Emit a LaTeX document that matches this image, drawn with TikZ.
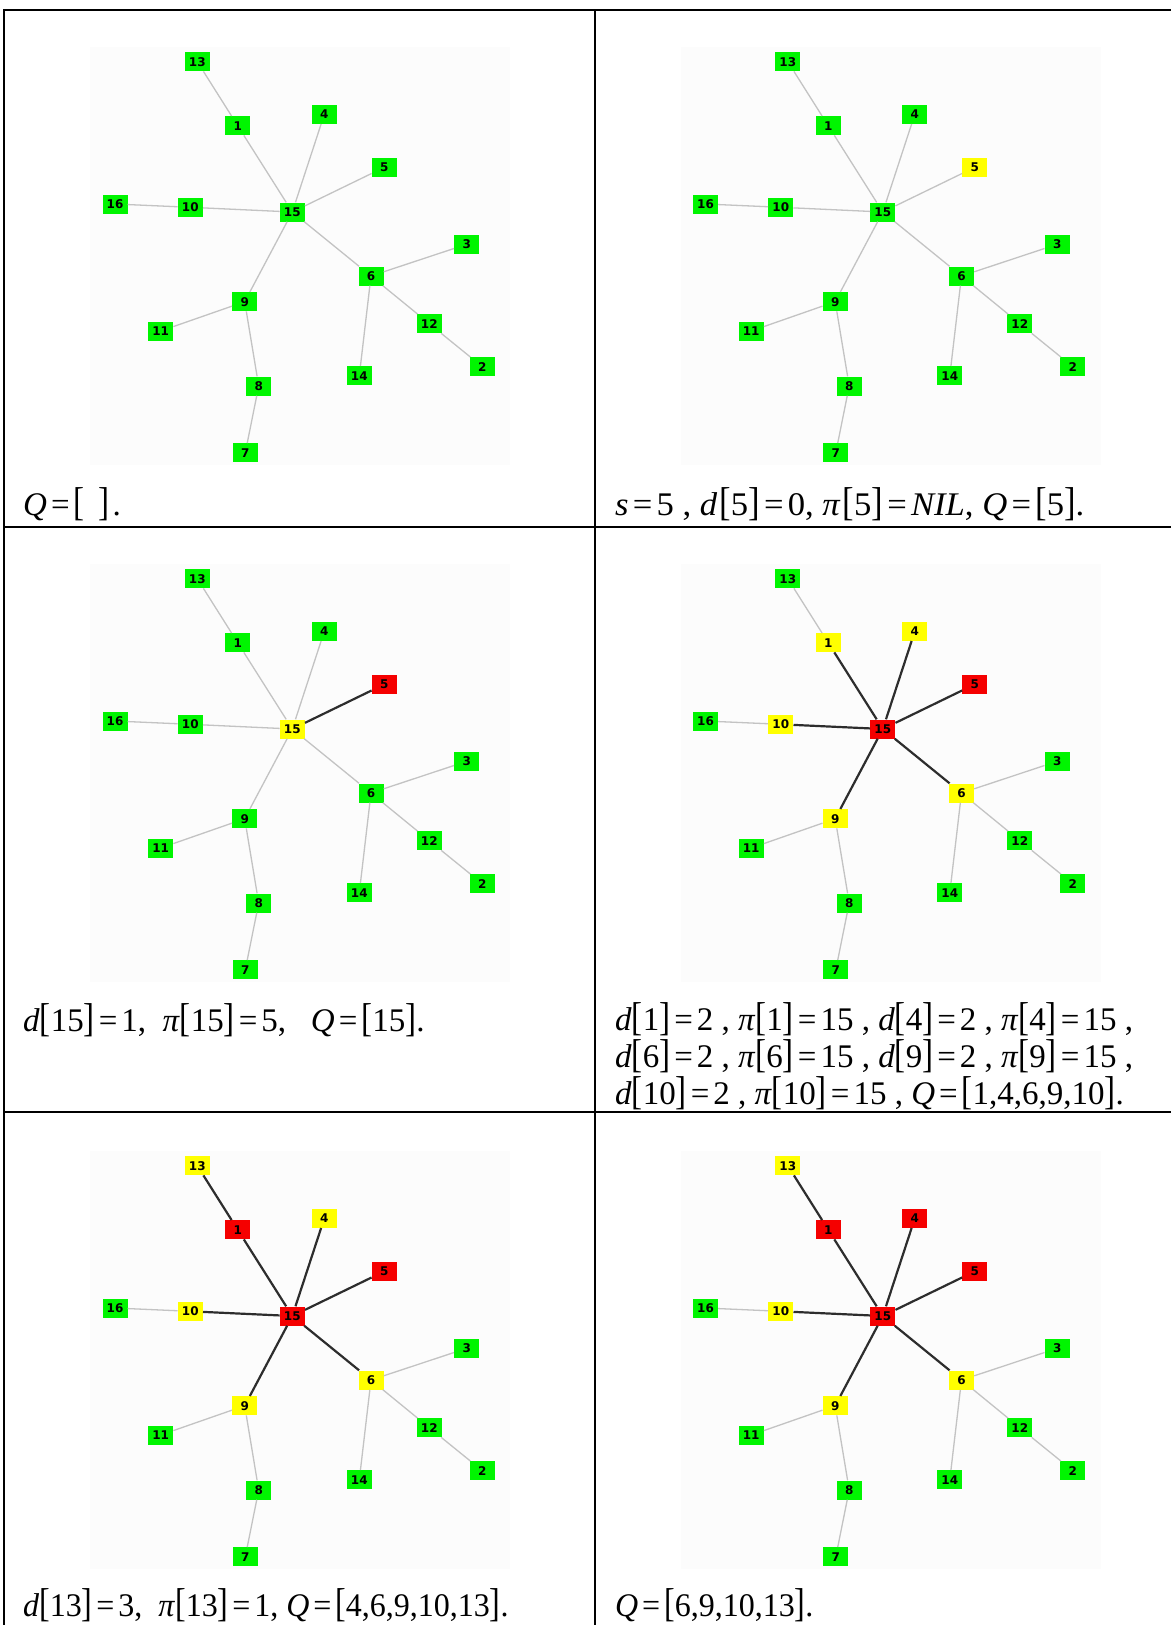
\documentclass[tikz,border=0pt]{standalone}
\usepackage{fontspec}
\usepackage{graphicx}
\setmainfont{Liberation Serif}
\newfontfamily\nodefont{DejaVu Sans}
\definecolor{grn}{RGB}{0,245,0}
\definecolor{yel}{RGB}{255,255,0}
\definecolor{rd}{RGB}{245,0,0}
\definecolor{lightedge}{RGB}{195,195,195}
\definecolor{darkedge}{RGB}{45,45,45}
\definecolor{panelbg}{RGB}{252,252,252}
\tikzset{
  nd/.style={rectangle,fill=grn,minimum width=25pt,minimum height=19pt,inner sep=0pt,
    font=\nodefont\bfseries\fontsize{12}{12}\selectfont,text=black},
  Y/.style={fill=yel}, R/.style={fill=rd},
  ed/.style={draw=lightedge,line width=1.3pt},
  D/.style={draw=darkedge,line width=2.2pt},
  tablerule/.style={line width=2pt,black},
  captext/.style={anchor=base west,inner sep=0pt,font=\fontsize{33}{33}\selectfont},
  n1/.style={},n2/.style={},n3/.style={},n4/.style={},n5/.style={},n6/.style={},
  n7/.style={},n8/.style={},n9/.style={},n10/.style={},n11/.style={},n12/.style={},
  n13/.style={},n14/.style={},n15/.style={},n16/.style={},
  e13/.style={},e1/.style={},e4/.style={},e5/.style={},e10/.style={},e6/.style={},e9/.style={}
}
\newcommand\LB{\scalebox{1}[1.22]{[}}
\newcommand\RB{\scalebox{1}[1.22]{]}}
\newcommand\EQ{\kern4pt=\kern4pt}
\newcommand\vi[1]{\textit{#1}}
\newcommand\GraphAt[1]{%
  \fill[panelbg] (90,47) rectangle (510,465);
  \node[nd,n13] (#1-13) at (197.3,61.7) {13};
  \node[nd,n1]  (#1-1)  at (237.7,125.7) {1};
  \node[nd,n4]  (#1-4)  at (324.3,114.3) {4};
  \node[nd,n5]  (#1-5)  at (384.3,167.3) {5};
  \node[nd,n16] (#1-16) at (115,204) {16};
  \node[nd,n10] (#1-10) at (190.3,207.3) {10};
  \node[nd,n15] (#1-15) at (292.3,212) {15};
  \node[nd,n3]  (#1-3)  at (466.7,244.3) {3};
  \node[nd,n6]  (#1-6)  at (371,276) {6};
  \node[nd,n9]  (#1-9)  at (244.7,301.7) {9};
  \node[nd,n11] (#1-11) at (160.7,331) {11};
  \node[nd,n12] (#1-12) at (429.3,323.7) {12};
  \node[nd,n2]  (#1-2)  at (482.3,366.7) {2};
  \node[nd,n14] (#1-14) at (359.3,375.7) {14};
  \node[nd,n8]  (#1-8)  at (258.7,386) {8};
  \node[nd,n7]  (#1-7)  at (245.3,452.7) {7};
  \draw[ed,e13] (#1-13) -- (#1-1);
  \draw[ed,e1]  (#1-1) -- (#1-15);
  \draw[ed,e4]  (#1-4) -- (#1-15);
  \draw[ed,e5]  (#1-5) -- (#1-15);
  \draw[ed]     (#1-16) -- (#1-10);
  \draw[ed,e10] (#1-10) -- (#1-15);
  \draw[ed,e9]  (#1-15) -- (#1-9);
  \draw[ed,e6]  (#1-15) -- (#1-6);
  \draw[ed] (#1-6) -- (#1-3);
  \draw[ed] (#1-6) -- (#1-12);
  \draw[ed] (#1-12) -- (#1-2);
  \draw[ed] (#1-6) -- (#1-14);
  \draw[ed] (#1-9) -- (#1-11);
  \draw[ed] (#1-9) -- (#1-8);
  \draw[ed] (#1-8) -- (#1-7);
}
\begin{document}
\begin{tikzpicture}[x=1pt,y=-1pt]
\useasboundingbox[fill=white] (0,0) rectangle (1171,1625);
% panels
\begin{scope}\GraphAt{a}\end{scope}
\begin{scope}[shift={(590.5,0)},n5/.style={Y}]\GraphAt{b}\end{scope}
\begin{scope}[shift={(0,517)},n5/.style={R},n15/.style={Y},e5/.style={D}]\GraphAt{c}\end{scope}
\begin{scope}[shift={(590.5,517)},n5/.style={R},n15/.style={R},
  n1/.style={Y},n4/.style={Y},n6/.style={Y},n9/.style={Y},n10/.style={Y},
  e5/.style={D},e1/.style={D},e4/.style={D},e6/.style={D},e9/.style={D},e10/.style={D}]\GraphAt{d}\end{scope}
\begin{scope}[shift={(0,1104)},n5/.style={R},n15/.style={R},n1/.style={R},
  n13/.style={Y},n4/.style={Y},n6/.style={Y},n9/.style={Y},n10/.style={Y},
  e5/.style={D},e1/.style={D},e4/.style={D},e6/.style={D},e9/.style={D},e10/.style={D},e13/.style={D}]\GraphAt{e}\end{scope}
\begin{scope}[shift={(590.5,1104)},n5/.style={R},n15/.style={R},n1/.style={R},n4/.style={R},
  n13/.style={Y},n6/.style={Y},n9/.style={Y},n10/.style={Y},
  e5/.style={D},e1/.style={D},e4/.style={D},e6/.style={D},e9/.style={D},e10/.style={D},e13/.style={D}]\GraphAt{f}\end{scope}
% table grid
\draw[tablerule] (3,10) -- (1171,10);
\draw[tablerule] (3,527) -- (1171,527);
\draw[tablerule] (3,1112) -- (1171,1112);
\draw[tablerule] (4,9) -- (4,1625);
\draw[tablerule] (595,9) -- (595,1625);
% captions
\node[captext] (c1) at (23,515) {\vi{Q}\EQ\LB\kern14pt\RB\kern3pt.};
\node[captext] (c2) at (615,515) {\scalebox{1.05}[1]{\vi{s}\EQ5 , \vi{d}\kern2pt\LB5\RB\EQ0, \vi{π}\kern2pt\LB5\RB\EQ\vi{NIL}, \vi{Q}\EQ\LB5\RB.}};
\node[captext] (c3) at (23,1031) {\vi{d}\LB15\RB\EQ1,\ \ \vi{π}\LB15\RB\EQ5,\ \ \ \vi{Q}\EQ\LB15\RB.};
\node[captext] (c4a) at (615,1030) {\vi{d}\LB1\RB\EQ2 , \vi{π}\LB1\RB\EQ15 , \vi{d}\LB4\RB\EQ2 , \vi{π}\LB4\RB\EQ15 ,};
\node[captext] (c4b) at (615,1067) {\vi{d}\LB6\RB\EQ2 , \vi{π}\LB6\RB\EQ15 , \vi{d}\LB9\RB\EQ2 , \vi{π}\LB9\RB\EQ15 ,};
\node[captext] (c4c) at (615,1104) {\vi{d}\LB10\RB\EQ2 , \vi{π}\LB10\RB\EQ15 , \vi{Q}\EQ\LB1,4,6,9,10\RB.};
\node[captext] (c5) at (23,1616) {\scalebox{0.97}[1]{\vi{d}\LB13\RB\EQ3,\ \ \vi{π}\LB13\RB\EQ1, \vi{Q}\EQ\LB4,6,9,10,13\RB.}};
\node[captext] (c6) at (615,1616) {\scalebox{0.97}[1]{\vi{Q}\EQ\LB6,9,10,13\RB.}};
\end{tikzpicture}
\end{document}
